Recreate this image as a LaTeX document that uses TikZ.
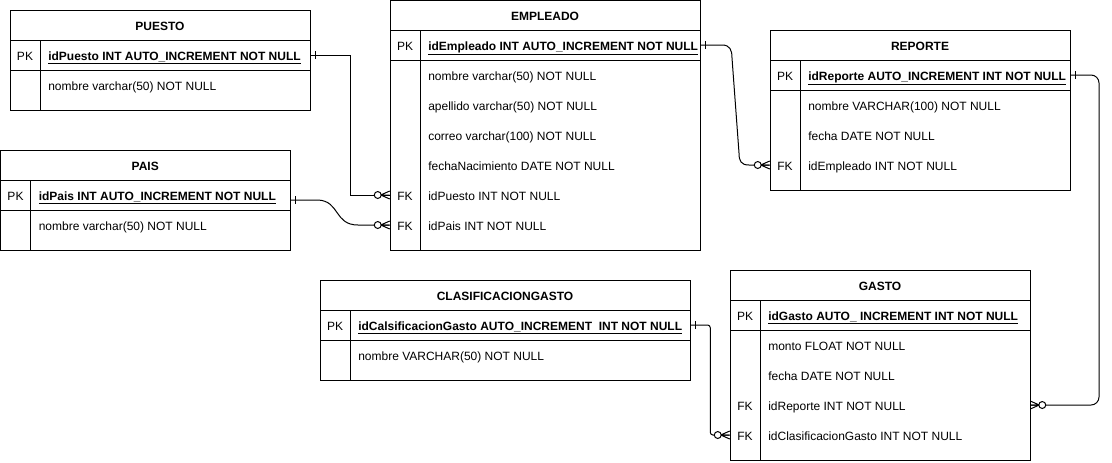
\documentclass[tikz,border=0pt]{standalone}
\usepackage{fontspec}
\setmainfont{Liberation Sans}
\usetikzlibrary{calc}
\tikzset{
  tbl/.style={draw=black, line width=0.75pt},
  conn/.style={draw=black, line width=0.75pt},
  txtbase/.style={font=\fontsize{9}{11}\selectfont, inner sep=0, text height=9pt, text depth=1.5pt},
  titletext/.style={txtbase, font=\fontsize{9}{11}\selectfont\bfseries},
  keytext/.style={txtbase},
  fieldtext/.style={txtbase, anchor=west},
  pktext/.style={txtbase, font=\fontsize{9}{11}\selectfont\bfseries, anchor=west},
  rowbox/.style={inner sep=0, minimum height=22.5pt},
  zmany/.pic={\draw[conn] (-9,0) -- (0,-4) (-9,0) -- (0,0) (-9,0) -- (0,4);
              \draw[conn, fill=white] (-12,0) circle[radius=2.6pt];},
  onebar/.pic={\draw[conn] (5,-4) -- (5,4);},
}
\newcommand{\ertable}[6]{%
  \draw[tbl] (#2,#4) rectangle (#3,#5);
  \draw[tbl] (#2,#4+30) -- (#3,#4+30) (#2,#4+60) -- (#3,#4+60) (#2+30,#4+30) -- (#2+30,#5);
  \node[titletext] (#1) at ({(#2+#3)/2},#4+15) {#6};
}
\newcommand{\errow}[7]{%
  \node[rowbox, minimum width={(#3-#2)*0.75pt}] (#1) at ({(#2+#3)/2},#4) {};
  \node[keytext] (#1-k) at (#2+15,#4) {#5};
  \node[#7] (#1-t) at (#2+38,#4) {#6};
}
\begin{document}
\begin{tikzpicture}[x=0.75pt, y=-0.75pt]
\useasboundingbox (0,0) rectangle (1112,462);

% PUESTO
\ertable{puesto}{10}{310}{10}{110}{PUESTO}
\errow{puestoPK}{10}{310}{55}{PK}{\underline{idPuesto INT AUTO\_INCREMENT NOT NULL}}{pktext}
\errow{puestoNom}{10}{310}{85}{}{nombre varchar(50) NOT NULL}{fieldtext}

% PAIS
\ertable{pais}{0.5}{290}{150}{250}{PAIS}
\errow{paisPK}{0.5}{290}{195}{PK}{\underline{idPais INT AUTO\_INCREMENT NOT NULL}}{pktext}
\errow{paisNom}{0.5}{290}{225}{}{nombre varchar(50) NOT NULL}{fieldtext}

% EMPLEADO
\ertable{emp}{390}{700}{0.5}{250}{EMPLEADO}
\errow{empPK}{390}{700}{45}{PK}{\underline{idEmpleado INT AUTO\_INCREMENT NOT NULL}}{pktext}
\errow{empNom}{390}{700}{75}{}{nombre varchar(50) NOT NULL}{fieldtext}
\errow{empApe}{390}{700}{105}{}{apellido varchar(50) NOT NULL}{fieldtext}
\errow{empCor}{390}{700}{135}{}{correo varchar(100) NOT NULL}{fieldtext}
\errow{empFec}{390}{700}{165}{}{fechaNacimiento DATE NOT NULL}{fieldtext}
\errow{empPuesto}{390}{700}{195}{FK}{idPuesto INT NOT NULL}{fieldtext}
\errow{empPais}{390}{700}{225}{FK}{idPais INT NOT NULL}{fieldtext}

% REPORTE
\ertable{rep}{770}{1070}{30}{190}{REPORTE}
\errow{repPK}{770}{1070}{75}{PK}{\underline{idReporte AUTO\_INCREMENT INT NOT NULL}}{pktext}
\errow{repNom}{770}{1070}{105}{}{nombre VARCHAR(100) NOT NULL}{fieldtext}
\errow{repFec}{770}{1070}{135}{}{fecha DATE NOT NULL}{fieldtext}
\errow{repEmp}{770}{1070}{165}{FK}{idEmpleado INT NOT NULL}{fieldtext}

% CLASIFICACIONGASTO
\ertable{clas}{320}{690}{280}{380}{CLASIFICACIONGASTO}
\errow{clasPK}{320}{690}{325}{PK}{\underline{idCalsificacionGasto AUTO\_INCREMENT\ \ INT NOT NULL}}{pktext}
\errow{clasNom}{320}{690}{355}{}{nombre VARCHAR(50) NOT NULL}{fieldtext}

% GASTO
\ertable{gasto}{730}{1030}{270}{460}{GASTO}
\errow{gastoPK}{730}{1030}{315}{PK}{\underline{idGasto AUTO\_ INCREMENT INT NOT NULL}}{pktext}
\errow{gastoMon}{730}{1030}{345}{}{monto FLOAT NOT NULL}{fieldtext}
\errow{gastoFec}{730}{1030}{375}{}{fecha DATE NOT NULL}{fieldtext}
\errow{gastoRep}{730}{1030}{405}{FK}{idReporte INT NOT NULL}{fieldtext}
\errow{gastoClas}{730}{1030}{435}{FK}{idClasificacionGasto INT NOT NULL}{fieldtext}

% connectors
\draw[conn] (puestoPK.east) -- ++(40,0) |- (empPuesto.west);
\pic at (puestoPK.east) {onebar};
\pic at (empPuesto.west) {zmany};

\coordinate (paisStart) at ($(paisPK.east)+(0,5)$);
\draw[conn] (paisStart) -- (318,200) .. controls (340,201) and (334,225) .. (358,225) -- (empPais.west);
\pic at (paisStart) {onebar};
\pic at (empPais.west) {zmany};

\draw[conn] (empPK.east) -- (722,45) .. controls (730,45) and (732,50) .. (732,58) -- (739,153) .. controls (739,161) and (741,165) .. (749,165) -- (repEmp.west);
\pic at (empPK.east) {onebar};
\pic at (repEmp.west) {zmany};

\draw[conn, rounded corners=6] (repPK.east) -| (1099,240) |- (gastoRep.east);
\pic at (repPK.east) {onebar};
\pic[rotate=180] at (gastoRep.east) {zmany};

\draw[conn, rounded corners=2] (clasPK.east) -- ++(20,0) |- (gastoClas.west);
\pic at (clasPK.east) {onebar};
\pic at (gastoClas.west) {zmany};
\end{tikzpicture}
\end{document}
